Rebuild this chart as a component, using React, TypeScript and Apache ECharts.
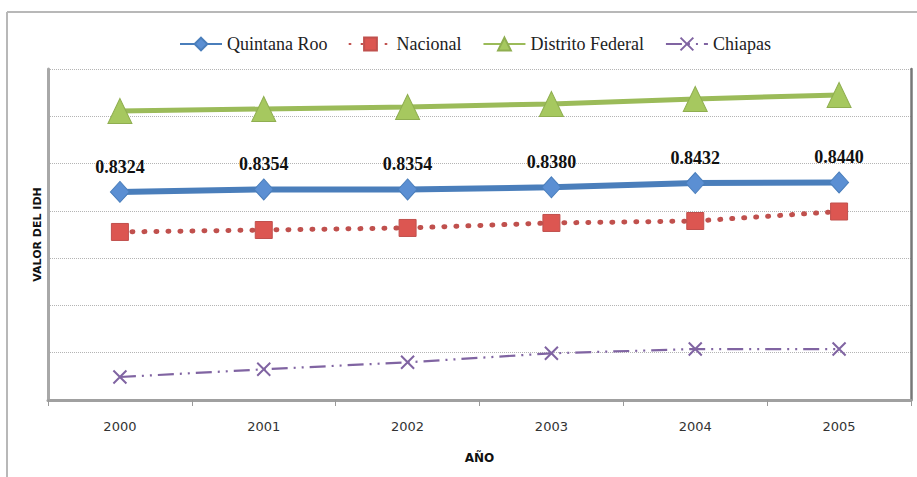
import React, { useEffect, useRef } from "react";
import * as echarts from "echarts";

const years = ["2000", "2001", "2002", "2003", "2004", "2005"];
const quintanaRoo = [0.8324, 0.8354, 0.8354, 0.838, 0.8432, 0.844];
const nacional = [0.7834, 0.7858, 0.7883, 0.7944, 0.7968, 0.8084];
const distritoFederal = [0.9313, 0.9337, 0.9362, 0.9399, 0.946, 0.9509];
const chiapas = [0.6061, 0.6155, 0.6241, 0.6351, 0.6403, 0.6403];

const Y_INTERVAL = 0.0578;
const Y_MIN = Y_INTERVAL * 10;
const Y_MAX = Y_INTERVAL * 17;

const crossPath = "path://M0,0L10,10M10,0L0,10";

export default function App() {
  const ref = useRef<HTMLDivElement>(null);

  useEffect(() => {
    document.body.style.margin = "0";
    if (!ref.current) return;
    const chart = echarts.init(ref.current, null, { renderer: "svg" });
    chart.setOption({
      animation: false,
      backgroundColor: "#ffffff",
      textStyle: { fontFamily: "Liberation Serif" },
      graphic: [
        {
          type: "line",
          shape: { x1: 7, y1: 12, x2: 917, y2: 12 },
          style: { stroke: "#b8b8b8", lineWidth: 2 },
        },
        {
          type: "line",
          shape: { x1: 7, y1: 12, x2: 7, y2: 477 },
          style: { stroke: "#b8b8b8", lineWidth: 2 },
        },
      ],
      legend: {
        top: 30,
        left: 174,
        itemWidth: 42,
        itemHeight: 16,
        itemGap: 21,
        textStyle: {
          fontFamily: "Liberation Serif",
          fontSize: 18,
          color: "#222",
        },
        data: ["Quintana Roo", "Nacional", "Distrito Federal", "Chiapas"],
      },
      grid: { left: 48, right: 6, top: 69, bottom: 77, containLabel: false },
      xAxis: {
        type: "category",
        data: years,
        boundaryGap: true,
        name: "AÑO",
        nameLocation: "middle",
        nameGap: 52,
        nameTextStyle: {
          fontFamily: "DejaVu Sans",
          fontWeight: "bold",
          fontSize: 12,
          color: "#111",
        },
        axisLine: {
          show: true,
          onZero: false,
          lineStyle: { color: "#a0a0a0", width: 3 },
        },
        axisTick: {
          show: true,
          interval: 0,
          length: 6,
          lineStyle: { color: "#999", width: 1 },
        },
        axisLabel: {
          margin: 20,
          fontFamily: "DejaVu Sans",
          fontSize: 13,
          color: "#333",
        },
      },
      yAxis: [
        {
          type: "value",
          min: Y_MIN,
          max: Y_MAX,
          interval: Y_INTERVAL,
          name: "VALOR DEL IDH",
          nameLocation: "middle",
          nameGap: 5,
          nameTextStyle: {
            fontFamily: "DejaVu Sans",
            fontWeight: "bold",
            fontSize: 11,
            color: "#111",
          },
          axisLine: {
            show: true,
            onZero: false,
            lineStyle: { color: "#a8a8a8", width: 3 },
          },
          axisTick: { show: false },
          axisLabel: { show: false },
          splitLine: {
            show: true,
            lineStyle: { color: "#b4b4b4", type: "dotted", width: 1 },
          },
        },
        {
          type: "value",
          position: "right",
          min: Y_MIN,
          max: Y_MAX,
          interval: Y_INTERVAL,
          axisLine: {
            show: true,
            onZero: false,
            lineStyle: { color: "#777777", width: 2.5 },
          },
          axisTick: { show: false },
          axisLabel: { show: false },
          splitLine: { show: false },
        },
      ],
      series: [
        {
          name: "Quintana Roo",
          type: "line",
          data: quintanaRoo,
          symbol: "diamond",
          symbolSize: [19, 21],
          z: 4,
          lineStyle: { color: "#4a7ebb", width: 6 },
          itemStyle: {
            color: "#5b8fd3",
            borderColor: "#4a7ebb",
            borderWidth: 1,
          },
          label: {
            show: true,
            position: "top",
            distance: 5,
            formatter: (p: any) => Number(p.value).toFixed(4),
            fontFamily: "Liberation Serif",
            fontWeight: "bold",
            fontSize: 18,
            color: "#111",
          },
        },
        {
          name: "Nacional",
          type: "line",
          data: nacional,
          symbol: "rect",
          symbolSize: 17,
          z: 3,
          lineStyle: {
            color: "#c0504d",
            width: 5,
            type: [1, 11],
            cap: "round",
          },
          itemStyle: {
            color: "#dc5651",
            borderColor: "#c0504d",
            borderWidth: 1,
          },
        },
        {
          name: "Distrito Federal",
          type: "line",
          data: distritoFederal,
          symbol: "triangle",
          symbolSize: [24, 25],
          z: 3,
          lineStyle: { color: "#9bbb59", width: 5 },
          itemStyle: {
            color: "#a6c85f",
            borderColor: "#8fae50",
            borderWidth: 1,
          },
        },
        {
          name: "Chiapas",
          type: "line",
          data: chiapas,
          symbol: crossPath,
          symbolSize: 13,
          z: 3,
          lineStyle: {
            color: "#8064a2",
            width: 2.2,
            type: [16, 6, 2, 6, 2, 6],
          },
          itemStyle: {
            color: "none",
            borderColor: "#8064a2",
            borderWidth: 2,
          },
        },
      ],
    });
    return () => chart.dispose();
  }, []);

  return <div ref={ref} style={{ width: 917, height: 477 }} />;
}
